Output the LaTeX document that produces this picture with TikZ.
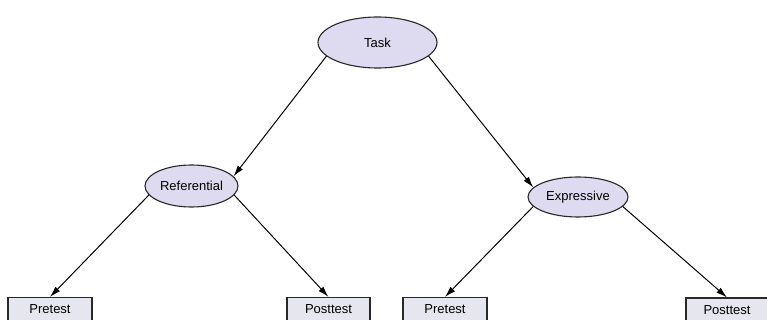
\documentclass[tikz,border=0pt]{standalone}
\usepackage{fontspec}
\setmainfont{Liberation Sans}
\usetikzlibrary{arrows.meta}
\usetikzlibrary{shapes.geometric}
\definecolor{ellfill}{RGB}{222,218,240}
\definecolor{boxfill}{RGB}{230,230,238}
\definecolor{edge}{RGB}{40,40,40}
\tikzset{
  ell/.style={ellipse, draw=edge, line width=1.1pt, fill=ellfill, inner sep=0pt, font=\fontsize{13}{15}\selectfont},
  testbox/.style={rectangle, draw=edge, line width=1.1pt, fill=boxfill, inner sep=0pt, minimum height=24pt, font=\fontsize{13}{15}\selectfont},
  arr/.style={draw=black, line width=1pt, -{Latex[length=11pt,width=6.5pt]}}
}
\begin{document}
\begin{tikzpicture}[x=1pt,y=-1pt]
\useasboundingbox (0,0) rectangle (767,320);
\clip (0,0) rectangle (767,320);
\fill[white] (0,0) rectangle (767,320);
\node[ell, minimum width=119pt, minimum height=51pt] (task) at (377.5,42.5) {Task};
\node[ell, minimum width=93pt, minimum height=42pt] (ref) at (191.5,186) {Referential};
\node[ell, minimum width=100pt, minimum height=40pt] (expr) at (578,197) {Expressive};
\node[testbox, minimum width=84pt] (pre1) at (50,309.5) {Pretest};
\node[testbox, minimum width=83pt] (post1) at (328.5,309.5) {Posttest};
\node[testbox, minimum width=84pt] (pre2) at (445,309.5) {Pretest};
\node[testbox, minimum width=82pt] (post2) at (727,310) {Posttest};
\draw[arr] (task.195) -- (ref.13);
\draw[arr] (task.345) -- (expr.168);
\draw[arr] (ref.192) -- (pre1.north);
\draw[arr] (ref.348) -- (post1.north);
\draw[arr] (expr.192) -- (pre2.north);
\draw[arr] (expr.348) -- (post2.north);
\end{tikzpicture}
\end{document}
